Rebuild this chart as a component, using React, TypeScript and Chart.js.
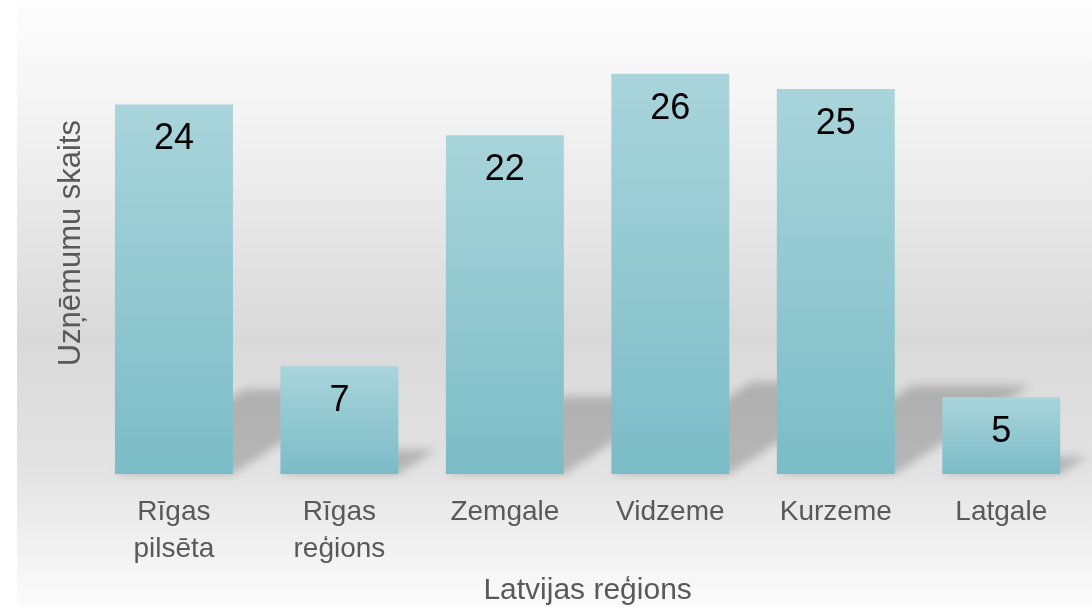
import React, { useEffect, useRef } from "react";
import { Chart, registerables } from "chart.js";

Chart.register(...registerables);

const categories: (string | string[])[] = [
  ["Rīgas", "pilsēta"],
  ["Rīgas", "reģions"],
  "Zemgale",
  "Vidzeme",
  "Kurzeme",
  "Latgale",
];
const values = [24, 7, 22, 26, 25, 5];
const yTitle = "Uzņēmumu skaits";
const xTitle = "Latvijas reģions";
const yMin = 0;
const yMax = 30;

const FONT = "'Liberation Sans', Arial, sans-serif";

const backgroundPlugin = {
  id: "bgPanel",
  beforeDraw(chart: any) {
    const { ctx, width, height } = chart;
    ctx.save();
    const x0 = 17, y0 = 7;
    const g = ctx.createLinearGradient(0, y0, 0, height);
    g.addColorStop(0, "#fcfcfc");
    g.addColorStop(0.15, "#f5f5f5");
    g.addColorStop(0.55, "#d9d9d9");
    g.addColorStop(0.76, "#e2e2e2");
    g.addColorStop(1, "#fcfcfc");
    ctx.fillStyle = g;
    ctx.fillRect(x0, y0, width - x0, height - y0);
    ctx.restore();
  },
};

const shadowPlugin = {
  id: "barShadows",
  beforeDatasetsDraw(chart: any) {
    const { ctx } = chart;
    const meta = chart.getDatasetMeta(0);
    ctx.save();
    ctx.filter = "blur(5px)";
    ctx.fillStyle = "rgba(0,0,0,0.2)";
    meta.data.forEach((el: any) => {
      const { x, y, base, width } = el.getProps(["x", "y", "base", "width"], true);
      const h = base - y;
      const x0 = x - width / 2;
      const x1 = x + width / 2;
      const dx = h * 0.35;
      const dy = h * 0.23;
      ctx.beginPath();
      ctx.moveTo(x0, base);
      ctx.lineTo(x1, base);
      ctx.lineTo(x1 + dx, base - dy);
      ctx.lineTo(x0 + dx, base - dy);
      ctx.closePath();
      ctx.fill();
    });
    ctx.restore();
  },
};

const labelPlugin = {
  id: "valueLabels",
  afterDatasetsDraw(chart: any) {
    const { ctx } = chart;
    const meta = chart.getDatasetMeta(0);
    ctx.save();
    ctx.fillStyle = "#000000";
    ctx.font = `36px ${FONT}`;
    ctx.textAlign = "center";
    ctx.textBaseline = "middle";
    meta.data.forEach((el: any, i: number) => {
      const { x, y } = el.getProps(["x", "y"], true);
      ctx.fillText(String(values[i]), x, y + 35);
    });
    ctx.restore();
  },
};

export default function App() {
  const canvasRef = useRef<HTMLCanvasElement | null>(null);

  useEffect(() => {
    const canvas = canvasRef.current;
    if (!canvas) return;
    const chart = new Chart(canvas, {
      type: "bar",
      data: {
        labels: categories,
        datasets: [
          {
            data: values,
            backgroundColor: (context: any) => {
              const c = context.chart;
              const yScale = c.scales?.y;
              if (!yScale || context.dataIndex === undefined) return "#94c9d2";
              const v = values[context.dataIndex];
              const top = yScale.getPixelForValue(v);
              const bottom = yScale.getPixelForValue(0);
              if (!isFinite(top) || !isFinite(bottom)) return "#94c9d2";
              const g = c.ctx.createLinearGradient(0, top, 0, bottom);
              g.addColorStop(0, "#a9d4db");
              g.addColorStop(1, "#7bbcc7");
              return g;
            },
            borderWidth: 0,
            categoryPercentage: 1,
            barPercentage: 0.713,
          },
        ],
      },
      options: {
        animation: false,
        responsive: true,
        maintainAspectRatio: false,
        layout: { padding: { left: 47, right: 8, top: 12, bottom: 1 } },
        plugins: {
          legend: { display: false },
          tooltip: { enabled: false },
          title: { display: false },
        },
        scales: {
          x: {
            grid: { display: false, drawTicks: false, tickLength: 0 },
            border: { display: false },
            ticks: {
              color: "#595959",
              font: { family: FONT, size: 28, lineHeight: 1.3 },
              padding: 20,
              maxRotation: 0,
              autoSkip: false,
            },
            title: {
              display: true,
              text: xTitle,
              color: "#595959",
              font: { family: FONT, size: 30, lineHeight: 1.2 },
              padding: { top: -14, bottom: -3 },
            },
          },
          y: {
            min: yMin,
            max: yMax,
            grid: { display: false, drawTicks: false, tickLength: 0 },
            border: { display: false },
            ticks: { display: false },
            title: {
              display: true,
              text: yTitle,
              color: "#595959",
              font: { family: FONT, size: 31, lineHeight: 1.2 },
              padding: { top: 6, bottom: 1 },
            },
          },
        },
      },
      plugins: [backgroundPlugin, shadowPlugin, labelPlugin],
    });
    return () => chart.destroy();
  }, []);

  return (
    <div style={{ position: "fixed", left: 0, top: 0, width: 1092, height: 607 }}>
      <canvas ref={canvasRef} />
    </div>
  );
}
